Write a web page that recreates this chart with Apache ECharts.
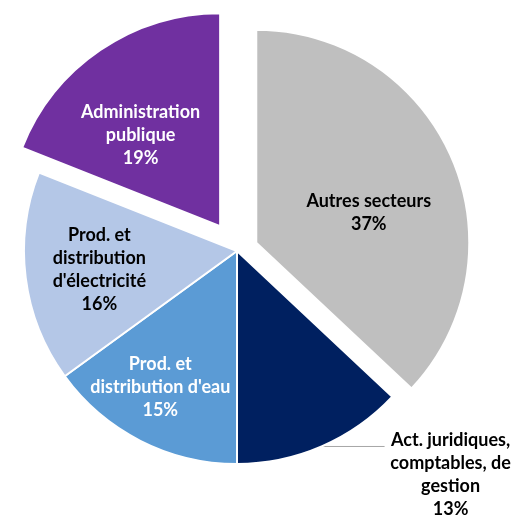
<!DOCTYPE html>
<html>
<head>
<meta charset="utf-8">
<script src="https://cdn.jsdelivr.net/npm/echarts@6/dist/echarts.min.js"></script>
<style>
  html, body { margin: 0; padding: 0; background: #fff; }
  #chart { width: 515px; height: 515px; }
</style>
</head>
<body>
<div id="chart"></div>
<script>
// données du graphique
const categories = [
  "Autres secteurs",
  "Act. juridiques,\ncomptables, de\ngestion",
  "Prod. et\ndistribution d'eau",
  "Prod. et\ndistribution\nd'électricité",
  "Administration\npublique"
];
const shares = [37, 13, 15, 16, 19];

// styles
const colors = ["#BFBFBF", "#002060", "#5B9BD5", "#B4C7E7", "#7030A0"];
const textColors = ["#000000", "#000000", "#ffffff", "#000000", "#ffffff"];
const explode = [21, 0, 0, 0, 30];
// petits décalages des étiquettes (padding) pour coller au modèle
const labelPads = [[28, 0, 0, 24], [57, 0, 0, 0], [78, 54, 0, 0], [9, 58, 0, 0], [0, 36, 0, 0]];
const outside = [false, true, false, false, false];

const center = [237, 251];
const radius = 213;
const font = "Lato, 'Open Sans', sans-serif";
const fontSize = 18;

// texte riche : chaque ligne centrée
const richText = (p) =>
  p.name.split("\n").map((s) => "{c|" + s + "}").join("\n") + "\n{c|" + p.percent + "%}";

const labelFor = (i) => {
  const lbl = {
    show: true,
    position: outside[i] ? "outside" : "inside",
    padding: labelPads[i],
    overflow: "none",
    formatter: richText,
    rich: {
      c: { align: "center", fontFamily: font, fontWeight: "bold", fontSize: fontSize, lineHeight: 23, color: textColors[i] }
    }
  };
  if (outside[i]) lbl.width = 122;
  return lbl;
};

const hiddenItem = (i) => ({
  name: categories[i],
  value: shares[i],
  itemStyle: { color: "transparent", borderWidth: 0 },
  label: { show: false },
  labelLine: { show: false }
});

const visibleItem = (i) => ({
  name: categories[i],
  value: shares[i],
  itemStyle: { color: colors[i], borderColor: "#ffffff", borderWidth: 2 },
  label: labelFor(i),
  labelLine: {
    show: outside[i],
    length: 0,
    length2: 63,
    lineStyle: { color: "#A6A6A6", width: 1 }
  }
});

// série de base : parts non détachées
const baseSeries = {
  type: "pie",
  center: center,
  radius: radius,
  startAngle: 90,
  clockwise: true,
  avoidLabelOverlap: false,
  labelLayout: { hideOverlap: false },
  silent: true,
  animation: false,
  label: { bleedMargin: 0 },
  data: categories.map((c, i) => (explode[i] > 0 ? hiddenItem(i) : visibleItem(i)))
};

// une série par part détachée, décalée par selectedOffset
const explodedSeries = categories
  .map((c, k) => k)
  .filter((k) => explode[k] > 0)
  .map((k) => ({
    type: "pie",
    center: center,
    radius: radius,
    startAngle: 90,
    clockwise: true,
    avoidLabelOverlap: false,
    labelLayout: { hideOverlap: false },
    silent: true,
    animation: false,
    selectedMode: "single",
    selectedOffset: explode[k],
    data: categories.map((c, i) => {
      if (i !== k) return hiddenItem(i);
      const item = visibleItem(i);
      item.selected = true;
      item.select = { itemStyle: { color: colors[i], borderColor: "#ffffff", borderWidth: 2 } };
      return item;
    })
  }));

const chart = echarts.init(document.getElementById("chart"));
chart.setOption({
  backgroundColor: "#ffffff",
  animation: false,
  series: [baseSeries].concat(explodedSeries)
});
</script>
</body>
</html>
